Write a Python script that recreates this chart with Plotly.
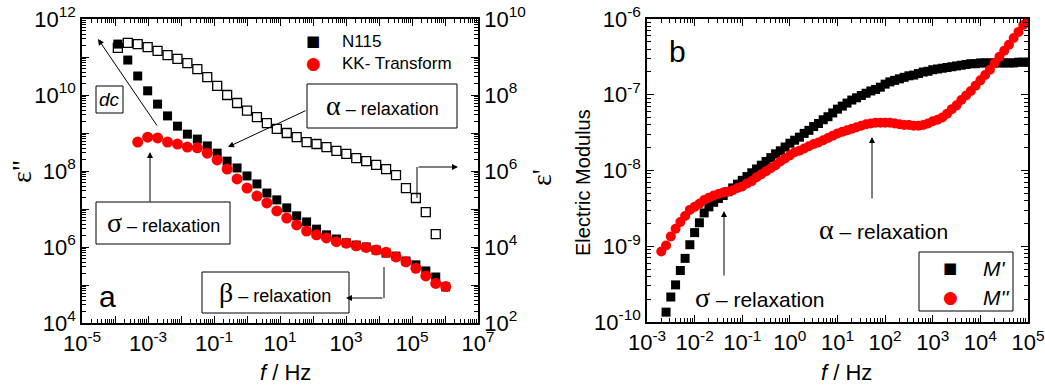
import numpy as np
import plotly.graph_objects as go

# ---------------- data: panel a ----------------
freq_a = [1.22e-4, 2.44e-4, 4.88e-4, 9.77e-4, 1.95e-3, 3.91e-3, 7.81e-3, 1.56e-2,
          3.13e-2, 6.25e-2, 0.125, 0.25, 0.5, 1, 2, 4, 8, 16, 32, 64, 128, 256, 512,
          1024, 2048, 4096, 8192, 16384, 32768, 65536, 131072, 262144, 524288, 1048576]
# log10 of eps'' (N115, filled squares)
eps2_n115_log = [11.34, 10.92, 10.50, 10.11, 9.76, 9.45, 9.18, 8.97, 8.84, 8.66, 8.47,
                 8.26, 8.08, 7.87, 7.66, 7.42, 7.24, 7.03, 6.82, 6.66, 6.47, 6.32, 6.21,
                 6.11, 6.05, 6.00, 5.92, 5.84, 5.76, 5.63, 5.53, 5.37, 5.21, 4.95]
# log10 of eps'' from KK transform (starts at the 3rd frequency)
eps2_kk_log = [8.76, 8.89, 8.87, 8.76, 8.71, 8.63, 8.61, 8.47, 8.29, 8.05, 7.79, 7.55,
               7.34, 7.16, 6.95, 6.76, 6.58, 6.42, 6.32, 6.24, 6.14, 6.10, 6.03, 5.99,
               5.92, 5.86, 5.74, 5.61, 5.44, 5.24, 5.04, 4.96]
# log10 of eps' (open squares, right axis, first 33 frequencies)
eps1_log = [9.24, 9.37, 9.34, 9.26, 9.16, 9.05, 8.95, 8.84, 8.68, 8.47, 8.24, 8.00,
            7.79, 7.59, 7.42, 7.26, 7.11, 7.00, 6.89, 6.76, 6.71, 6.63, 6.53, 6.45,
            6.34, 6.26, 6.16, 6.05, 5.89, 5.55, 5.29, 4.92, 4.34]

# ---------------- data: panel b ----------------
freq_b_log = [-2.7, -2.6, -2.5, -2.4, -2.3, -2.2, -2.1, -2.0, -1.9, -1.8, -1.7, -1.6,
              -1.5, -1.4, -1.3, -1.2, -1.1, -1.0, -0.9, -0.8, -0.7, -0.6, -0.5, -0.4,
              -0.3, -0.2, -0.1, 0.0, 0.1, 0.2, 0.3, 0.4, 0.5, 0.6, 0.7, 0.8, 0.9, 1.0,
              1.1, 1.2, 1.3, 1.4, 1.5, 1.6, 1.7, 1.8, 1.9, 2.0, 2.1, 2.2, 2.3, 2.4, 2.5,
              2.6, 2.7, 2.8, 2.9, 3.0, 3.1, 3.2, 3.3, 3.4, 3.5, 3.6, 3.7, 3.8, 3.9, 4.0,
              4.1, 4.2, 4.3, 4.4, 4.5, 4.6, 4.7, 4.8, 4.9, 5.0]
# M' (starts at 10^-2.6)
m1_log = [-9.87, -9.67, -9.51, -9.32, -9.16, -8.98, -8.82, -8.69, -8.56, -8.48, -8.42,
          -8.37, -8.33, -8.28, -8.23, -8.18, -8.13, -8.08, -8.03, -7.98, -7.93, -7.88,
          -7.83, -7.78, -7.74, -7.69, -7.64, -7.60, -7.56, -7.51, -7.47, -7.42, -7.38,
          -7.33, -7.29, -7.24, -7.19, -7.15, -7.11, -7.07, -7.04, -7.01, -6.98, -6.95,
          -6.93, -6.90, -6.86, -6.83, -6.81, -6.79, -6.77, -6.75, -6.74, -6.72, -6.70,
          -6.69, -6.67, -6.66, -6.65, -6.64, -6.63, -6.62, -6.61, -6.60, -6.59, -6.59,
          -6.58, -6.58, -6.58, -6.58, -6.58, -6.58, -6.58, -6.58, -6.57, -6.57, -6.57]
# M'' (starts at 10^-2.7)
m2_log = [-9.07, -8.99, -8.87, -8.77, -8.68, -8.60, -8.52, -8.48, -8.44, -8.39, -8.36,
          -8.33, -8.31, -8.29, -8.28, -8.26, -8.23, -8.21, -8.17, -8.14, -8.09, -8.05,
          -8.01, -7.97, -7.93, -7.88, -7.84, -7.80, -7.76, -7.74, -7.71, -7.68, -7.65,
          -7.63, -7.60, -7.57, -7.54, -7.51, -7.49, -7.47, -7.45, -7.43, -7.41, -7.39,
          -7.38, -7.37, -7.37, -7.37, -7.37, -7.38, -7.39, -7.40, -7.40, -7.41, -7.41,
          -7.40, -7.38, -7.35, -7.33, -7.30, -7.25, -7.19, -7.14, -7.07, -7.01, -6.95,
          -6.88, -6.81, -6.74, -6.67, -6.58, -6.50, -6.42, -6.34, -6.25, -6.17, -6.08,
          -6.00]

legend_a = ["N115", "KK- Transform"]
legend_b = ["<i>M'</i>", "<i>M''</i>"]

W, H = 1045, 387
def P(x):
    return x / W
def Q(y):
    return 1 - y / H

FONT = "Liberation Sans, Arial, sans-serif"
GREEK = "Liberation Serif, serif"

fa = np.array(freq_a)
fb = 10 ** np.array(freq_b_log)

fig = go.Figure()
fig.add_trace(go.Scatter(x=fa[:len(eps1_log)], y=10 ** np.array(eps1_log), mode="markers",
                         xaxis="x", yaxis="y3", showlegend=False,
                         marker=dict(symbol="square-open", size=9, color="black",
                                     line=dict(width=1.3, color="black"))))
fig.add_trace(go.Scatter(x=fa, y=10 ** np.array(eps2_n115_log), mode="markers",
                         name=legend_a[0], xaxis="x", yaxis="y", showlegend=False,
                         marker=dict(symbol="square", size=9, color="black")))
fig.add_trace(go.Scatter(x=fa[len(fa) - len(eps2_kk_log):], y=10 ** np.array(eps2_kk_log),
                         mode="markers", name=legend_a[1], xaxis="x", yaxis="y",
                         showlegend=False,
                         marker=dict(symbol="circle", size=11, color="#ff0000")))
fig.add_trace(go.Scatter(x=fb[len(fb) - len(m1_log):], y=10 ** np.array(m1_log), mode="markers",
                         name=legend_b[0], xaxis="x2", yaxis="y2", showlegend=False,
                         marker=dict(symbol="square", size=9, color="black")))
fig.add_trace(go.Scatter(x=fb, y=10 ** np.array(m2_log), mode="markers",
                         name=legend_b[1], xaxis="x2", yaxis="y2", showlegend=False,
                         marker=dict(symbol="circle", size=10, color="#ff0000")))


def log_ticks(lo, hi, step):
    vals = [10.0 ** k for k in range(lo, hi + 1)]
    txt = ["10<sup>%d</sup>" % k if (k - lo) % step == 0 else "" for k in range(lo, hi + 1)]
    minor = [m * 10.0 ** k for k in range(lo, hi) for m in range(2, 10)]
    return vals, txt, minor


def log_axis(lo, hi, step, **kw):
    vals, txt, minor = log_ticks(lo, hi, step)
    d = dict(type="log", range=[lo, hi], showline=True, linecolor="black", linewidth=1.5,
             ticks="inside", ticklen=7, tickwidth=1.2, tickcolor="black", automargin=False,
             showgrid=False, zeroline=False, tickmode="array", tickvals=vals,
             ticktext=txt, tickangle=0,
             tickfont=dict(family=FONT, size=22, color="black"),
             minor=dict(ticks="inside", ticklen=4, tickwidth=1, tickcolor="black",
                        showgrid=False, tickmode="array", tickvals=minor))
    d.update(kw)
    return d


fig.update_layout(
    width=W, height=H, margin=dict(l=0, r=0, t=0, b=0, autoexpand=False),
    paper_bgcolor="white", plot_bgcolor="white",
    font=dict(family=FONT, color="black"),
    showlegend=False,
    xaxis=log_axis(-5, 7, 2, domain=[P(82), P(478)], anchor="y", mirror="ticks"),
    yaxis=log_axis(4, 12, 2, domain=[Q(323), Q(19)], anchor="x"),
    yaxis3=log_axis(2, 10, 2, overlaying="y", side="right", anchor="x"),
    xaxis2=log_axis(-3, 5, 1, domain=[P(647), P(1028)], anchor="y2", mirror="ticks"),
    yaxis2=log_axis(-10, -6, 1, domain=[Q(322), Q(19)], anchor="x2", mirror="ticks"),
)

shapes = []
annots = []

def box(x0, y0, x1, y1):
    shapes.append(dict(type="rect", xref="paper", yref="paper", x0=P(x0), x1=P(x1),
                       y0=Q(y1), y1=Q(y0), line=dict(color="black", width=1),
                       fillcolor="rgba(0,0,0,0)"))

def seg(x0, y0, x1, y1):
    shapes.append(dict(type="line", xref="paper", yref="paper", x0=P(x0), x1=P(x1),
                       y0=Q(y0), y1=Q(y1), line=dict(color="black", width=1)))

def arrow(tx, ty, hx, hy):
    annots.append(dict(xref="paper", yref="paper", x=P(hx), y=Q(hy), ax=tx - hx, ay=ty - hy,
                       text="", showarrow=True, arrowhead=2, arrowsize=1.2, arrowwidth=1,
                       arrowcolor="black"))

def text(x, y, t, size, angle=0, family=FONT, anchor="center", color="black"):
    annots.append(dict(xref="paper", yref="paper", x=P(x), y=Q(y), text=t, showarrow=False,
                       xanchor=anchor, yanchor="middle", textangle=angle,
                       font=dict(family=family, size=size, color=color)))

def greek(ch, size):
    return "<span style='font-family:Liberation Serif;font-size:%dpx'>%s</span>" % (size, ch)

# ---- panel a annotations ----
box(96, 86, 123, 113)
text(109.5, 100, "<i>dc</i>", 19)
arrow(158, 127, 98, 39)
arrow(150, 203, 150, 152)
box(96, 202, 230, 244)
text(163, 222, greek("σ", 28) + " – relaxation", 18)
box(307, 84, 457, 128)
text(382, 105, greek("α", 28) + " – relaxation", 18)
arrow(307, 110, 228, 147)
seg(417, 198, 417, 167)
arrow(417, 167, 458, 167)
box(202, 272, 349, 313)
text(275, 292, greek("β", 28) + " – relaxation", 18)
seg(384, 267, 384, 298)
arrow(384, 298, 346, 298)
text(107, 296, "a", 30)
text(21, 172, "ε\"", 28, angle=-90, family=GREEK)
text(541, 178, "ε'", 28, angle=-90, family=GREEK)
text(285, 372, "<i>f</i> / Hz", 22)
# legend a
text(313, 41, "■", 15, family="DejaVu Sans")
text(340, 41, legend_a[0], 17, anchor="left")
text(313, 63, "●", 17, family="DejaVu Sans", color="#ff0000")
text(340, 63, legend_a[1], 17, anchor="left")

# ---- panel b annotations ----
text(677, 52, "b", 30)
arrow(724, 277, 724, 211)
text(760, 297, greek("σ", 28) + " – relaxation", 21)
arrow(872, 200, 872, 137)
text(883, 229, greek("α", 28) + " – relaxation", 21)
text(583, 183, "Electric Modulus", 20, angle=-90)
text(846, 372, "<i>f</i> / Hz", 22)
# legend b
box(919, 252, 1013, 311)
text(950, 268, "■", 15, family="DejaVu Sans")
text(981, 268, legend_b[0], 21, anchor="left")
text(950, 297, "●", 17, family="DejaVu Sans", color="#ff0000")
text(981, 297, legend_b[1], 21, anchor="left")

fig.update_layout(shapes=shapes, annotations=annots)
fig.write_html("out.html", config={"displayModeBar": False},
               post_script="document.body.style.margin='0px';"
                           "document.body.style.padding='0px';"
                           "document.body.style.overflow='hidden';")
